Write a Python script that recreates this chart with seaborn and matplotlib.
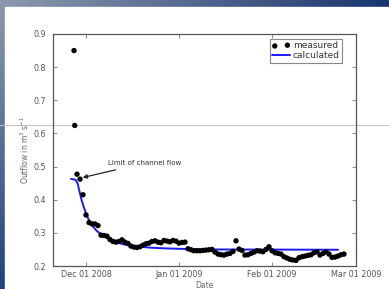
import numpy as np
import pandas as pd
import seaborn as sns
import matplotlib
matplotlib.use("Agg")
import matplotlib.pyplot as plt
import matplotlib.dates as mdates
from matplotlib.patches import Rectangle

# --- Data ---
# two early spikes, then roughly daily measurements
spike_dates = ["2008-11-27 00:00", "2008-11-27 06:00"]
spike_values = [0.850, 0.624]

measured_start = "2008-11-28"
measured_values = [
    0.477, 0.462, 0.415, 0.354, 0.331, 0.327, 0.327, 0.322, 0.293, 0.292,
    0.290, 0.280, 0.274, 0.272, 0.274, 0.279, 0.272, 0.268, 0.260, 0.257,
    0.256, 0.258, 0.263, 0.267, 0.269, 0.274, 0.276, 0.272, 0.270, 0.277,
    0.275, 0.273, 0.277, 0.275, 0.269, 0.271, 0.272, 0.252, 0.249, 0.246,
    0.246, 0.246, 0.247, 0.248, 0.249, 0.250, 0.242, 0.236, 0.234, 0.233,
    0.236, 0.238, 0.244, 0.276, 0.251, 0.247, 0.233, 0.234, 0.238, 0.242,
    0.246, 0.245, 0.243, 0.250, 0.258, 0.246, 0.240, 0.238, 0.236, 0.228,
    0.224, 0.220, 0.218, 0.217, 0.225, 0.228, 0.230, 0.232, 0.234, 0.240,
    0.243, 0.233, 0.238, 0.243, 0.236, 0.226, 0.227, 0.230, 0.234, 0.236,
]

calc_dates = [
    "2008-11-26 00:00", "2008-11-27 12:00", "2008-11-28 06:00", "2008-11-28 18:00",
    "2008-11-29 12:00", "2008-11-30 06:00", "2008-12-01 00:00", "2008-12-01 18:00",
    "2008-12-02 14:00", "2008-12-03 12:00", "2008-12-04 12:00", "2008-12-05 12:00",
    "2008-12-07 00:00", "2008-12-08 18:00", "2008-12-11 00:00", "2008-12-13 06:00",
    "2008-12-16 00:00", "2008-12-19 00:00", "2008-12-23 00:00", "2008-12-28 00:00",
    "2009-01-08 00:00", "2009-02-23 00:00",
]
calc_values = [
    0.463, 0.460, 0.448, 0.428, 0.400, 0.378, 0.359, 0.343, 0.329, 0.317,
    0.307, 0.299, 0.289, 0.281, 0.272, 0.266, 0.261, 0.258, 0.255, 0.253,
    0.250, 0.249,
]

annot_text = "Limit of channel flow"
annot_point = ("2008-11-29 00:00", 0.465)
annot_text_pos = ("2008-12-08 12:00", 0.505)

x_ticks = ["2008-12-01", "2009-01-01", "2009-02-01", "2009-03-01"]
y_ticks = [0.2, 0.3, 0.4, 0.5, 0.6, 0.7, 0.8, 0.9]


def build_frames():
    meas_dates = pd.to_datetime(spike_dates).append(
        pd.date_range(measured_start, periods=len(measured_values), freq="D"))
    measured = pd.DataFrame({"date": meas_dates,
                             "outflow": spike_values + measured_values})
    calculated = pd.DataFrame({"date": pd.to_datetime(calc_dates),
                               "outflow": calc_values})
    return measured, calculated


def draw_background(fig):
    # slide-like blue gradient frame on the top and left
    bg = fig.add_axes([0, 0, 1, 1], zorder=-10)
    bg.axis("off")
    h, w = 60, 120
    tl = np.array([0.55, 0.60, 0.68])
    tr = np.array([0.10, 0.21, 0.44])
    bl = np.array([0.13, 0.26, 0.50])
    xs = np.linspace(0, 1, w)[None, :, None]
    ys = np.linspace(0, 1, h)[:, None, None]
    grad = tl + (tr - tl) * xs + (bl - tl) * ys
    bg.imshow(np.clip(grad, 0, 1), extent=[0, 1, 0, 1], aspect="auto")
    bg.add_patch(Rectangle((5 / 389, 0), 1, 1 - 7 / 289, color="white"))
    bg.axhline(1 - 125 / 289, color="#c4c4c4", lw=0.8)
    bg.set_xlim(0, 1)
    bg.set_ylim(0, 1)


def main():
    measured, calculated = build_frames()

    sns.set_theme(style="ticks")
    plt.rcParams["font.family"] = ["DejaVu Sans"]

    fig = plt.figure(figsize=(3.89, 2.89), dpi=100)
    draw_background(fig)

    ax = fig.add_axes([53 / 389, 23 / 289, 303 / 389, 232 / 289])
    ax.set_facecolor("none")

    sns.scatterplot(data=measured, x="date", y="outflow", ax=ax, color="black",
                    s=15, edgecolor="none", label="measured", zorder=3)
    sns.lineplot(data=calculated, x="date", y="outflow", ax=ax, color="#1a1aff",
                 lw=1.4, label="calculated", zorder=2)

    ax.annotate(annot_text, xy=(pd.Timestamp(annot_point[0]), annot_point[1]),
                xytext=(pd.Timestamp(annot_text_pos[0]), annot_text_pos[1]),
                fontsize=5, color="#333333",
                arrowprops=dict(arrowstyle="-|>", color="#222222", lw=0.9,
                                mutation_scale=6))

    ax.set_xlim(pd.Timestamp("2008-11-20"), pd.Timestamp("2009-03-01"))
    ax.set_ylim(0.2, 0.9)
    ax.set_xticks(pd.to_datetime(x_ticks))
    ax.xaxis.set_major_formatter(mdates.DateFormatter("%b %d %Y"))
    ax.set_yticks(y_ticks)
    ax.set_yticklabels(["%.1f" % v for v in y_ticks])

    ax.tick_params(direction="in", top=True, right=True, length=3, width=0.6,
                   labelsize=5.8, labelcolor="#555555", color="#777777", pad=3)
    ax.tick_params(axis="y", pad=5)
    for sp in ax.spines.values():
        sp.set_color("#555555")
        sp.set_linewidth(0.9)

    ax.set_xlabel("Date", fontsize=5.5, color="#666666", labelpad=1)
    ax.set_ylabel("Outflow in m$^3$ s$^{-1}$", fontsize=5.5, color="#666666",
                  labelpad=2)

    leg = ax.legend(loc="upper right", bbox_to_anchor=(0.954, 0.978),
                    borderaxespad=0, scatterpoints=2, fontsize=6.5,
                    fancybox=False, framealpha=1, edgecolor="#888888",
                    handlelength=2.0, handletextpad=0.3, borderpad=0.25,
                    labelspacing=0.1)
    leg.get_frame().set_linewidth(0.8)
    for t in leg.get_texts():
        t.set_color("#333333")

    fig.savefig("out.png", dpi=100)


if __name__ == "__main__":
    main()
